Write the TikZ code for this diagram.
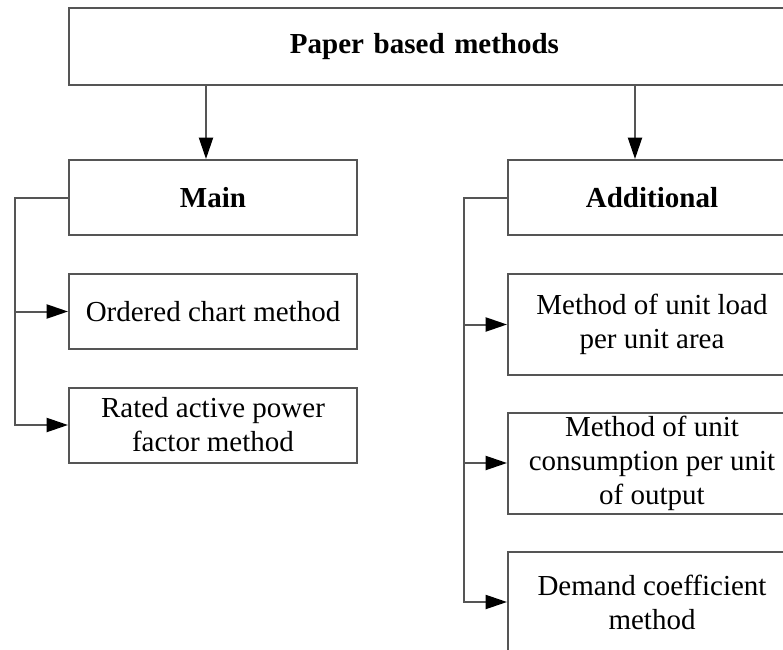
\documentclass[tikz,border=0pt]{standalone}
\usepackage{fontspec}
\setmainfont{Liberation Serif}
\usetikzlibrary{arrows.meta}

\tikzset{every picture/.style={line width=1.5pt}}
\tikzset{
	box/.style={draw={rgb, 255:red, 85; green, 85; blue, 85 }, fill=white, inner sep=0pt, align=center,
		minimum width=216pt, minimum height=56.25pt, font=\fontsize{21.75}{25.5}\selectfont},
	tallbox/.style={box, minimum height=75.75pt},
	wire/.style={draw={rgb, 255:red, 85; green, 85; blue, 85 }},
	link/.style={wire, -{Triangle[length=16pt, width=10.5pt, color=black]}}
}

\begin{document}
\begin{tikzpicture}[x=0.75pt,y=0.75pt,yscale=-1,xscale=1]
	\clip (0,0) rectangle (783,650); %page of 783 x 650

	% Top block
	\node [box, minimum width=542.25pt, minimum height=57.75pt, text width=530pt] (top) at (430.5,46.5) {\hspace*{-9pt}\textbf{Paper based methods}};

	% Left column
	\node [box] (main) at (213,197.5) {\textbf{Main}};
	\node [box] (ordered) at (213,311.5) {Ordered chart method};
	\node [box] (rated) at (213,425) {Rated active power\\factor method};

	% Right column
	\node [box] (addit) at (652,197.5) {\textbf{Additional}};
	\node [tallbox] (load) at (652,324.5) {Method of unit load\\per unit area};
	\node [tallbox] (cons) at (652,463) {Method of unit\\consumption per unit\\of output};
	\node [tallbox] (demand) at (652,602) {Demand coefficient\\method};

	% Arrows from the top block
	\draw [link] ([xshift=-5.25pt]main.north |- top.south) -- ([xshift=-5.25pt]main.north);
	\draw [link] ([xshift=-12.75pt]addit.north |- top.south) -- ([xshift=-12.75pt]addit.north);

	% Left bus
	\draw [link] (main.west) -- ++(-53,0) coordinate (mainbus) |- (rated.west);
	\draw [link] (mainbus |- ordered.west) -- (ordered.west);

	% Right bus
	\draw [link] (addit.west) -- ++(-43,0) coordinate (addbus) |- (demand.west);
	\draw [link] (addbus |- load.west) -- (load.west);
	\draw [link] (addbus |- cons.west) -- (cons.west);

\end{tikzpicture}
\end{document}
